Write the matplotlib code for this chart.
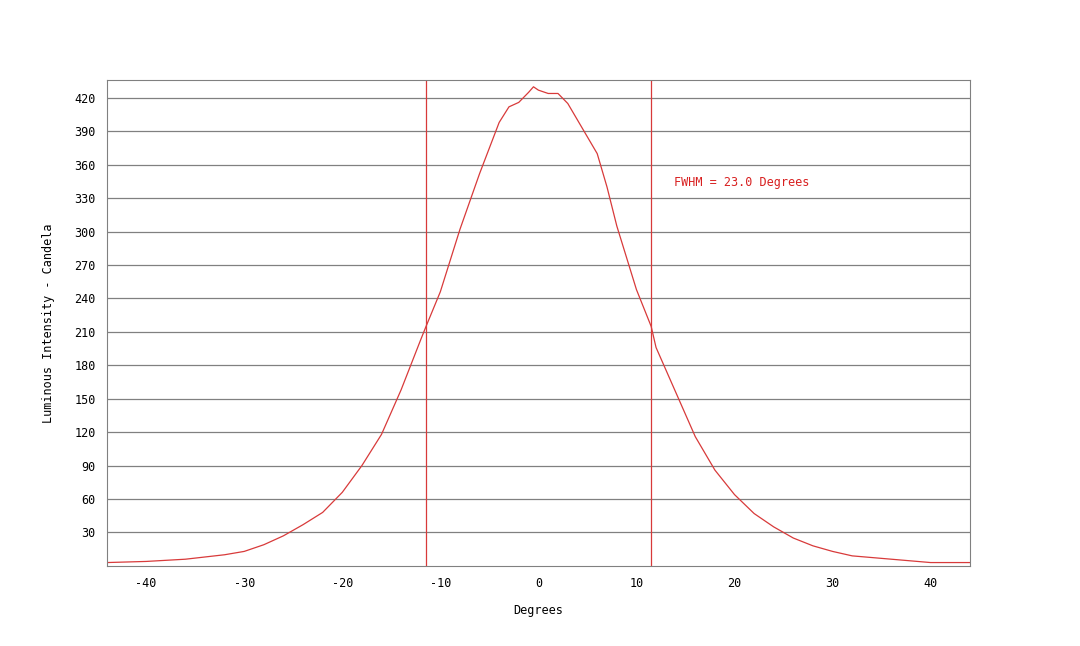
import numpy as np
import matplotlib
matplotlib.use('Agg')
import matplotlib.pyplot as plt

# valores
deg = [-44, -40, -36, -32, -30, -28, -26, -24, -22, -20, -18, -16, -14, -12, -11.5,
       -10, -8, -6, -4, -3, -2, -1, -0.5, 0, 1, 2, 3, 4, 5, 6, 7, 8, 10, 11.5, 12,
       14, 16, 18, 20, 22, 24, 26, 28, 30, 32, 36, 40, 44]
cd = [3, 4, 6, 10, 13, 19, 27, 37, 48, 66, 90, 118, 158, 203, 214,
      246, 302, 352, 398, 412, 416, 425, 430, 427, 424, 424, 415, 400, 385, 370, 340, 305, 248, 215, 196,
      156, 116, 86, 64, 47, 35, 25, 18, 13, 9, 6, 3, 3]
fwhm_left = -11.5
fwhm_right = 11.5
yticks = list(range(30, 421, 30))
xticks = list(range(-40, 41, 10))

plt.rcParams['font.family'] = 'DejaVu Sans Mono'
plt.rcParams['axes.unicode_minus'] = False
fig = plt.figure(figsize=(10.8, 6.46), dpi=100)
ax = fig.add_axes([0.099, 0.124, 0.799, 0.752])
ax.plot(deg, cd, color='#d83a3a', lw=0.9)
ax.axvline(fwhm_left, color='#d83a3a', lw=0.9)
ax.axvline(fwhm_right, color='#d83a3a', lw=0.9)
ax.text(13.8, 344, 'FWHM = 23.0 Degrees', color='#d82020', fontsize=8.5, va='center')
ax.set_xlim(-44, 44)
ax.set_ylim(0, 436)
ax.set_yticks(yticks)
ax.set_xticks(xticks)
ax.yaxis.grid(True, color='#808080', lw=0.9)
ax.tick_params(length=0, labelsize=8.5, pad=8)
for s in ax.spines.values():
    s.set_color('#808080')
ax.set_xlabel('Degrees', fontsize=8.5, labelpad=10)
ax.set_ylabel('Luminous Intensity - Candela', fontsize=8.5, labelpad=14)
fig.savefig('out.png')
